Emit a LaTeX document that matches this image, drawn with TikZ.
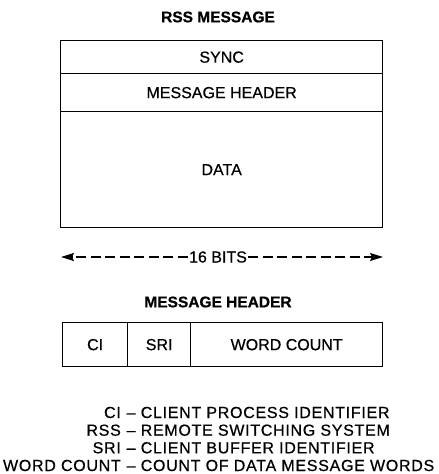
\documentclass[tikz,border=0pt]{standalone}
\usepackage{fontspec}
\setmainfont{Liberation Sans}[FakeBold=0.6]
\newfontfamily\legendfont{Liberation Sans}[FakeBold=0.6,LetterSpace=4.5]
\usetikzlibrary{arrows.meta}
\begin{document}
\begin{tikzpicture}[x=1pt,y=-1pt,
  every node/.style={inner sep=0pt, font=\fontsize{16}{18}\selectfont},
  ttl/.style={font=\fontsize{15.5}{18}\selectfont\bfseries},
  field/.style={draw, line width=1.3pt, rectangle, anchor=north west},
  conn/.style={line width=1.4pt, dash pattern=on 10pt off 4.5pt, -{Stealth[length=13pt,width=8pt,inset=2pt]}},
  lg/.style={font=\legendfont\fontsize{16}{18}\selectfont}]
\useasboundingbox (0,0) rectangle (439,474);
\node[ttl] (title) at (218,17) {RSS MESSAGE};
\node[field, minimum width=322pt, minimum height=33pt] (sync) at (60,40) {};
\node[field, minimum width=322pt, minimum height=38pt] (hdr) at (60,73) {};
\node[field, minimum width=322pt, minimum height=116pt] (data) at (60,111) {};
\node at (sync.center) {SYNC};
\node at (hdr.center) {MESSAGE HEADER};
\node at (data.center) {DATA};
\node[fill=white, inner xsep=1pt] (bits) at (218,257) {16 BITS};
\coordinate (al) at (61,257);
\coordinate (ar) at (383,257);
\draw[conn] (bits.west) -- (al);
\draw[conn] (bits.east) -- (ar);
\node[ttl] (mh) at (218,302) {MESSAGE HEADER};
\node[field, minimum width=65pt, minimum height=44pt] (ci) at (62,322) {};
\node[field, minimum width=63pt, minimum height=44pt] (sri) at (127,322) {};
\node[field, minimum width=192pt, minimum height=44pt] (wc) at (190,322) {};
\node at (ci.center) {CI};
\node at (sri.center) {SRI};
\node at (wc.center) {WORD COUNT};
\node[lg, anchor=base east] (k1) at (121,418) {CI};
\node[lg, anchor=base west] (d1) at (126.5,418) {– CLIENT PROCESS IDENTIFIER};
\node[lg, anchor=base east] (k2) at (121,435.7) {RSS};
\node[lg, anchor=base west] (d2) at (126.5,435.7) {– REMOTE SWITCHING SYSTEM};
\node[lg, anchor=base east] (k3) at (121,453.3) {SRI};
\node[lg, anchor=base west] (d3) at (126.5,453.3) {– CLIENT BUFFER IDENTIFIER};
\node[lg, anchor=base east] (k4) at (121,471) {WORD COUNT};
\node[lg, anchor=base west] (d4) at (126.5,471) {– COUNT OF DATA MESSAGE WORDS};
\end{tikzpicture}
\end{document}
